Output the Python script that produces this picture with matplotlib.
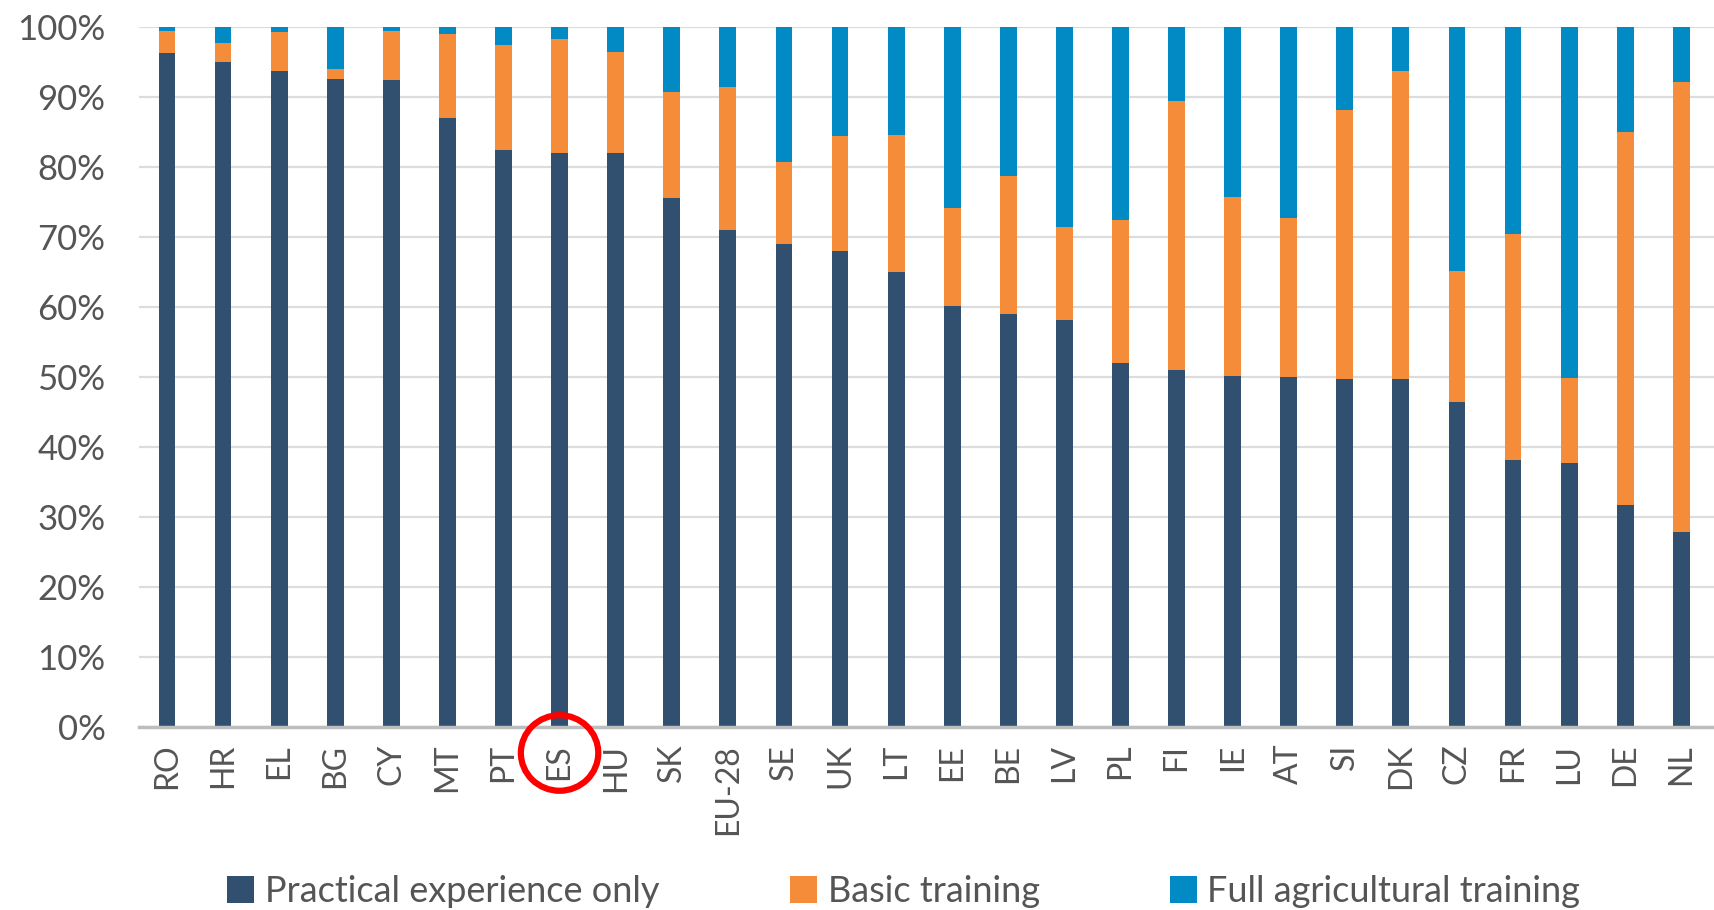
import matplotlib.pyplot as plt
from matplotlib.patches import Ellipse
from matplotlib.ticker import PercentFormatter
import matplotlib.transforms as mtransforms
import numpy as np

plt.rcParams['font.family'] = ['Lato', 'DejaVu Sans']

# Data: share of farm managers by level of agricultural training (%)
countries = ["RO", "HR", "EL", "BG", "CY", "MT", "PT", "ES", "HU", "SK", "EU-28", "SE", "UK", "LT",
             "EE", "BE", "LV", "PL", "FI", "IE", "AT", "SI", "DK", "CZ", "FR", "LU", "DE", "NL"]
practical = [96.3, 95.0, 93.7, 92.6, 92.4, 87.0, 82.5, 82.1, 82.1, 75.6, 71.1, 69.1, 68.0, 65.1,
             60.2, 59.0, 58.2, 52.0, 51.0, 50.1, 50.0, 49.8, 49.7, 46.5, 38.2, 37.8, 31.7, 27.9]
basic = [3.1, 2.8, 5.6, 1.5, 7.0, 12.1, 14.9, 16.2, 14.3, 15.1, 20.3, 11.6, 16.4, 19.5,
         14.0, 19.8, 13.2, 20.4, 38.5, 25.7, 22.8, 38.4, 44.0, 18.7, 32.3, 12.1, 53.3, 64.3]
full = [0.6, 2.2, 0.7, 5.9, 0.6, 0.9, 2.6, 1.7, 3.6, 9.3, 8.6, 19.3, 15.6, 15.4,
        25.8, 21.2, 28.6, 27.6, 10.5, 24.2, 27.2, 11.8, 6.3, 34.8, 29.5, 50.1, 15.0, 7.8]
series_names = ["Practical experience only", "Basic training", "Full agricultural training"]
colors = ["#31506F", "#F58C3A", "#018AC4"]
highlight = "ES"

fig = plt.figure(figsize=(17.15, 9.10), dpi=100)
ax = fig.add_axes([0.081, 0.201, 0.919, 0.769])

x = np.arange(len(countries))
bottom = np.zeros(len(countries))
for vals, name, col in zip([practical, basic, full], series_names, colors):
    ax.bar(x, vals, width=0.3, bottom=bottom, color=col, label=name, zorder=3)
    bottom += np.array(vals)

ax.set_ylim(0, 100)
ax.set_xlim(-0.5, 27.6)
ax.set_yticks(np.arange(0, 101, 10))
ax.yaxis.set_major_formatter(PercentFormatter(decimals=0))
ax.set_xticks(x)
ax.set_xticklabels(countries, rotation=90)
ax.tick_params(axis="y", length=0, pad=24, labelsize=25, labelcolor="#555555")
ax.tick_params(axis="x", length=0, pad=12, labelsize=23, labelcolor="#555555")
ax.grid(axis="y", color="#DCDCDC", linewidth=1.6, zorder=0)
for s in ["top", "right", "left"]:
    ax.spines[s].set_visible(False)
ax.spines["bottom"].set_color("#BDBDBD")
ax.spines["bottom"].set_linewidth(2.5)
ax.spines["bottom"].set_zorder(4)

# red circle around the highlighted country label
trans = mtransforms.blended_transform_factory(ax.transData, ax.transAxes)
ax.add_patch(Ellipse((countries.index(highlight), -0.037), 1.38, 0.108, transform=trans,
                     fill=False, edgecolor="red", linewidth=4.5, clip_on=False, zorder=5))

leg = fig.legend(loc="center", bbox_to_anchor=(0.527, 0.02), ncol=3, frameon=False,
                 fontsize=26, handlelength=0.75, handleheight=0.75, handletextpad=0.3,
                 columnspacing=3.6, labelcolor="#555555")

fig.savefig("out.png", dpi=100)
